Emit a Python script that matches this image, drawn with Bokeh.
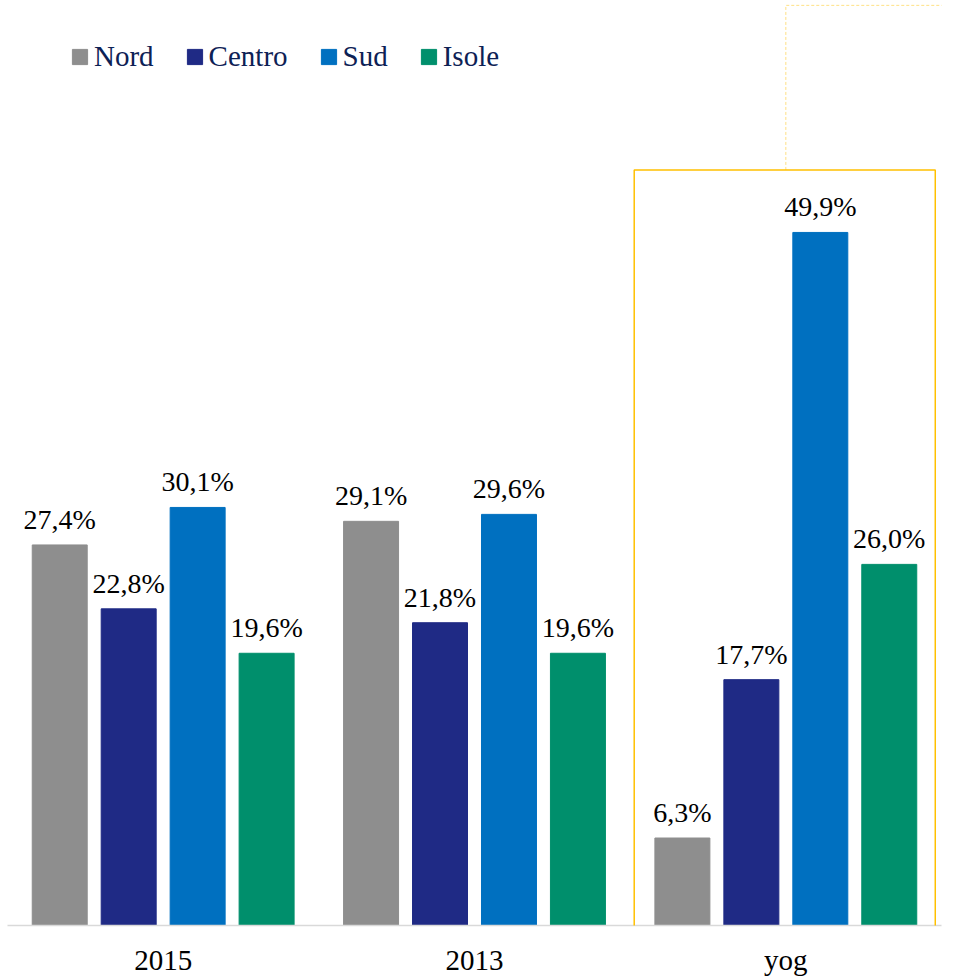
from bokeh.plotting import figure
from bokeh.models import ColumnDataSource, FactorRange, BoxAnnotation, Range1d
from bokeh.transform import dodge
from bokeh.core.properties import value
from bokeh.embed import file_html
from bokeh.resources import INLINE

categories = ["2015", "2013", "yog"]
series = ["Nord", "Centro", "Sud", "Isole"]
nord = [27.4, 29.1, 6.3]
centro = [22.8, 21.8, 17.7]
sud = [30.1, 29.6, 49.9]
isole = [19.6, 19.6, 26.0]
colors = ["#8e8e8e", "#1f2a85", "#0070c0", "#008f6c"]
highlight = "yog"

FONT = "Liberation Serif"
Y_END = 66.6

def fmt(v):
    return f"{v:.1f}".replace(".", ",") + "%"

data = {"cat": categories}
for name, vals in zip(series, [nord, centro, sud, isole]):
    data[name] = vals
    data[name + "_lbl"] = [fmt(v) for v in vals]
src = ColumnDataSource(data)

p = figure(x_range=FactorRange(*categories, range_padding=0),
           y_range=Range1d(0, Y_END),
           width=980, height=980, output_backend="svg", toolbar_location=None,
           min_border_left=7, min_border_top=0, min_border_right=39, min_border_bottom=55)
p.outline_line_color = None
p.xgrid.visible = False
p.ygrid.visible = False
p.yaxis.visible = False

step = 0.2215
bw = 0.1766
for i, (name, col) in enumerate(zip(series, colors)):
    off = (i - 1.5) * step
    p.vbar(x=dodge("cat", off, range=p.x_range), top=name, width=bw, source=src,
           color=col, line_color=col, legend_label=name)
    p.text(x=dodge("cat", off, range=p.x_range), y=name, text=name + "_lbl", source=src,
           text_align="center", text_baseline="bottom", y_offset=-10,
           text_font=value(FONT), text_font_size="28px", text_color="#000000")

idx = categories.index(highlight)
p.add_layout(BoxAnnotation(left=idx + 0.013, right=idx + 0.98, bottom=-0.1, top=54.4,
                           fill_alpha=0, line_color="#ffc000", line_alpha=1.0, line_width=1.5))
p.line(x=[idx + 0.5, idx + 0.5, idx + 1.5], y=[54.4, Y_END - 0.35, Y_END - 0.35],
       line_color="#ffd966", line_alpha=0.8, line_width=1, line_dash="3 2")

ax = p.xaxis[0]
ax.axis_line_color = "#d9d9d9"
ax.axis_line_width = 1.5
ax.major_tick_line_color = None
ax.minor_tick_line_color = None
ax.major_label_standoff = 12
ax.major_label_text_font = FONT
ax.major_label_text_font_size = "29px"
ax.major_label_text_color = "#000000"

lg = p.legend[0]
lg.orientation = "horizontal"
lg.location = (63, 852)
lg.padding = 0
lg.margin = 0
lg.spacing = 31
lg.glyph_width = 19
lg.glyph_height = 19
lg.label_standoff = 5
lg.label_text_font = FONT
lg.label_text_font_size = "29px"
lg.label_text_color = "#0d2155"
lg.border_line_alpha = 0
lg.background_fill_alpha = 0

open("out.html", "w").write(file_html(p, INLINE))
